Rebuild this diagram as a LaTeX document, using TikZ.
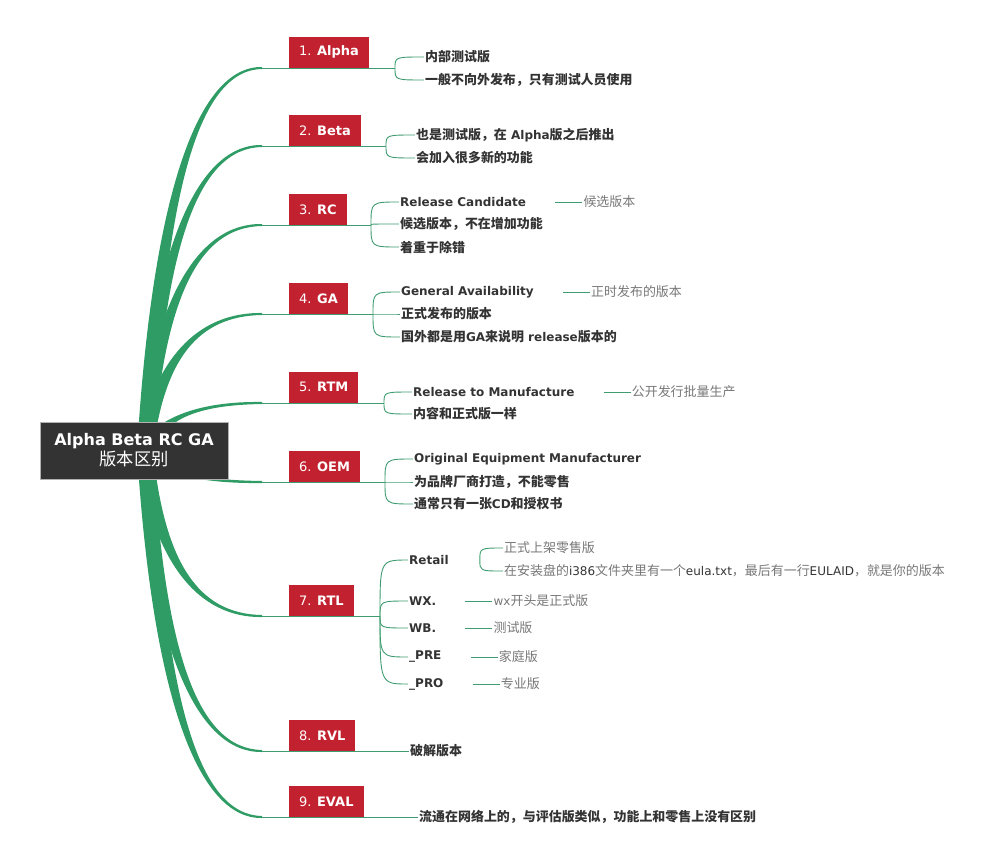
\documentclass[tikz,border=0pt]{standalone}
\usepackage{fontspec}
\setmainfont{DejaVu Sans}
\newfontfamily\cjk{Noto Sans CJK SC}[Scale=1.08]
\usetikzlibrary{positioning, calc, backgrounds}
\definecolor{topicred}{HTML}{C22230}
\definecolor{branchgreen}{HTML}{2E9C64}
\definecolor{linkgreen}{HTML}{3F9C70}
\definecolor{rootgray}{HTML}{333333}
\definecolor{subtext}{HTML}{333333}
\definecolor{notegray}{HTML}{777777}
\newcommand{\zh}[1]{{\cjk #1}}

\begin{document}
\begin{tikzpicture}[x=1pt, y=-1pt,
    root/.style={fill=rootgray, draw=gray!60, line width=0.8pt, text=white, align=center,
      minimum width=188pt, minimum height=57pt, inner sep=0pt, font=\fontsize{16}{20}\selectfont},
    topic/.style={fill=topicred, text=white, anchor=south west, minimum height=31pt,
      inner xsep=10pt, inner ysep=0pt, font=\fontsize{13}{15}\selectfont},
    sub/.style={anchor=west, inner xsep=1pt, inner ysep=1pt, text=subtext,
      font=\bfseries\fontsize{12}{14}\selectfont},
    note/.style={anchor=west, inner xsep=1pt, inner ysep=1pt, text=notegray,
      font=\fontsize{12}{14}\selectfont},
    link/.style={draw=linkgreen, line width=0.9pt},
    branch/.style={fill=branchgreen}]
    \useasboundingbox (0,0) rectangle (1000,864);

    % Root
    \node[root] (root) at (134,450.5) {{\bfseries Alpha Beta RC GA}\\{\fontsize{16}{20}\selectfont\zh{版本区别}}};
    \coordinate (hub) at (145,451);

    % Topics
    \node[topic] (t1) at (289,68) {1. \textbf{Alpha}};
    \node[topic] (t2) at (289,146) {2. \textbf{Beta}};
    \node[topic] (t3) at (289,225) {3. \textbf{RC}};
    \node[topic] (t4) at (289,314) {4. \textbf{GA}};
    \node[topic] (t5) at (289,403) {5. \textbf{RTM}};
    \node[topic] (t6) at (289,482) {6. \textbf{OEM}};
    \node[topic] (t7) at (289,616) {7. \textbf{RTL}};
    \node[topic] (t8) at (289,751) {8. \textbf{RVL}};
    \node[topic] (t9) at (289,817) {9. \textbf{EVAL}};

    % Alpha
    \coordinate (f1) at (395,68);
    \node[sub] (a1) at (424,57) {\zh{内部测试版}};
    \node[sub] (a2) at (424,80) {\zh{一般不向外发布，只有测试人员使用}};
    % Beta
    \coordinate (f2) at (386,146);
    \node[sub] (b1) at (415,135) {\zh{也是测试版，在} Alpha\zh{版之后推出}};
    \node[sub] (b2) at (415,158) {\zh{会加入很多新的功能}};
    % RC
    \coordinate (f3) at (371,225);
    \node[sub] (c1) at (399,202) {Release Candidate};
    \node[sub] (c2) at (399,224) {\zh{候选版本，不在增加功能}};
    \node[sub] (c3) at (399,247) {\zh{着重于除错}};
    \node[note, right=55pt of c1] (c1n) {\zh{候选版本}};
    % GA
    \coordinate (f4) at (373,314);
    \node[sub] (d1) at (400,292) {General Availability};
    \node[sub] (d2) at (400,314) {\zh{正式发布的版本}};
    \node[sub] (d3) at (400,337) {\zh{国外都是用}GA\zh{来说明} release\zh{版本的}};
    \node[note, right=55pt of d1] (d1n) {\zh{正时发布的版本}};
    % RTM
    \coordinate (f5) at (384,403);
    \node[sub] (m1) at (412,392) {Release to Manufacture};
    \node[sub] (m2) at (412,414) {\zh{内容和正式版一样}};
    \node[note, right=55pt of m1] (m1n) {\zh{公开发行批量生产}};
    % OEM
    \coordinate (f6) at (385,482);
    \node[sub] (g1) at (413,459) {Original Equipment Manufacturer};
    \node[sub] (g2) at (413,482) {\zh{为品牌厂商打造，不能零售}};
    \node[sub] (g3) at (413,504) {\zh{通常只有一张}CD\zh{和授权书}};
    % RTL
    \coordinate (f7) at (380,616);
    \node[sub] (h1) at (408,560) {Retail};
    \node[sub] (h2) at (408,601) {WX.};
    \node[sub] (h3) at (408,628) {WB.};
    \node[sub] (h4) at (408,657) {\_PRE};
    \node[sub] (h5) at (408,684) {\_PRO};
    \coordinate (fR) at ([xshift=30pt]h1.east);
    \node[note] (h1a) at (503,548) {\zh{正式上架零售版}};
    \node[note] (h1b) at (503,571) {\zh{在安装盘的}{\color{subtext}i386}\zh{文件夹里有一个}{\color{subtext}eula.txt}\zh{，最后有一行}{\color{subtext}EULAID}\zh{，就是你的版本}};
    \node[note, right=55pt of h2] (h2n) {wx\zh{开头是正式版}};
    \node[note, right=55pt of h3] (h3n) {\zh{测试版}};
    \node[note, right=55pt of h4] (h4n) {\zh{家庭版}};
    \node[note, right=55pt of h5] (h5n) {\zh{专业版}};
    % RVL, EVAL
    \node[sub] (r1) at (409,751) {\zh{破解版本}};
    \node[sub] (v1) at (418,817) {\zh{流通在网络上的，与评估版类似，功能上和零售上没有区别}};
    \coordinate (f8) at (r1.west);
    \coordinate (f9) at (v1.west);

    % Forks
    \foreach \f/\s in {f1/a1, f1/a2, f2/b1, f2/b2, f3/c1, f3/c2, f3/c3, f4/d1, f4/d2, f4/d3,
        f5/m1, f5/m2, f6/g1, f6/g2, f6/g3, f7/h1, f7/h2, f7/h3, f7/h4, f7/h5, fR/h1a, fR/h1b}
      \draw[link] (\f) .. controls (\f |- \s.west) .. (\s.west);
    \foreach \s in {c1, d1, m1, h2, h3, h4, h5}
      \draw[link] ([xshift=28pt]\s.east) -- (\s n.west);

    % Tapered branches
    \begin{scope}[on background layer]
      \foreach \i/\s in {1/-1, 2/-1, 3/-1, 4/-1, 5/-1, 6/1, 7/1, 8/1, 9/1} {
        \coordinate (tip) at ($(t\i.south west)+(-27,0)$);
        \coordinate (q) at ($(hub |- tip)+(20,0)$);
        \fill[branch] ($(hub)+(-8,0)$)
          .. controls ($(hub)!2/3!(q)+(-6,0)$) and ($(tip)!2/3!(q)+(0,2*\s)$) .. ($(tip)+(0,\s)$)
          -- ($(tip)+(0,-\s)$)
          .. controls ($(tip)!2/3!(q)+(0,-2*\s)$) and ($(hub)!2/3!(q)+(6,0)$) .. ($(hub)+(8,0)$) -- cycle;
        \draw[link] (tip) -- (f\i);
      }
    \end{scope}
  \end{tikzpicture}
\end{document}
